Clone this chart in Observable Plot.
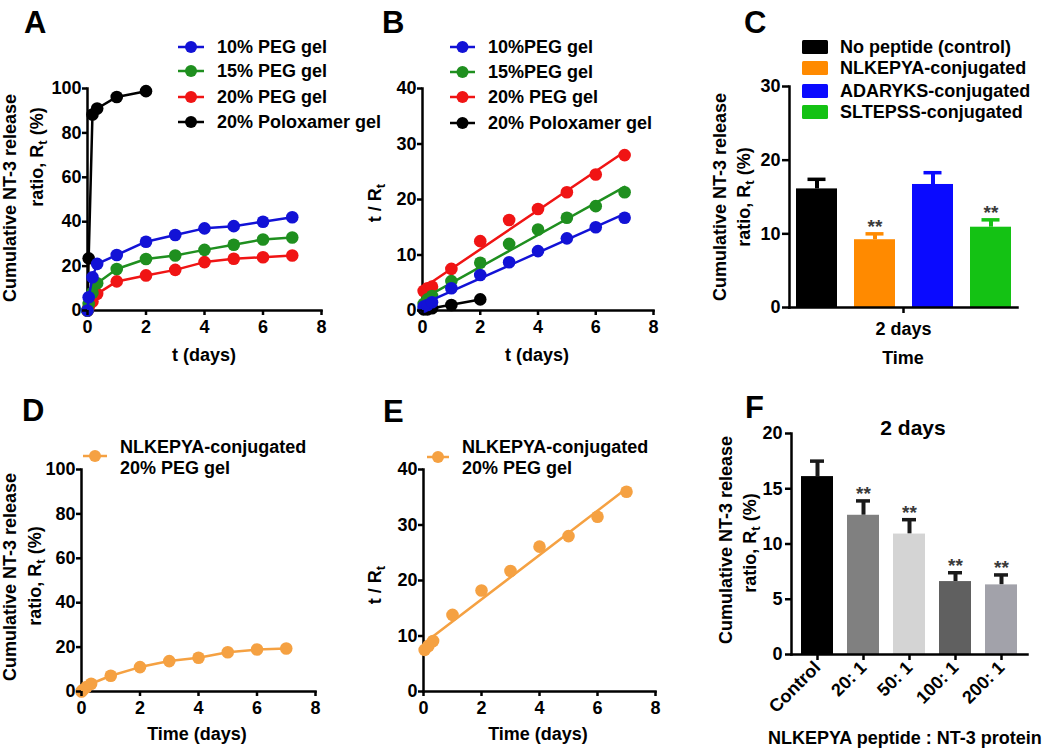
<!DOCTYPE html>
<html><head><meta charset="utf-8">
<script src="https://cdn.jsdelivr.net/npm/d3@7"></script>
<script src="https://cdn.jsdelivr.net/npm/@observablehq/plot@0.6"></script>
<style>
body{margin:0;background:#fff;}
#root{position:relative;width:1050px;height:748px;overflow:hidden;background:#fff;}
.panel{position:absolute;}
#overlay{position:absolute;left:0;top:0;pointer-events:none;}
</style></head><body><div id="root"></div>
<script>
const FONT = '"Liberation Sans", Arial, sans-serif';

// ---------- Panel A : cumulative release ----------
const timeA = [0, 0.04, 0.17, 0.33, 1, 2, 3, 4, 5, 6, 7];
const timePoloxA = [0, 0.04, 0.17, 0.33, 1, 2];
const seriesA = ["10% PEG gel", "15% PEG gel", "20% PEG gel", "20% Poloxamer gel"];
const colorsA = ["#1212d6", "#1f8f1f", "#f01414", "#000000"];
const peg10A = [0, 6, 15, 21, 25, 31, 34, 37, 38, 40, 42];
const peg15A = [0, 3, 8, 12.3, 18.7, 23.2, 24.8, 27.3, 29.6, 32, 32.9];
const peg20A = [0, 1.5, 4, 7.5, 13.1, 15.8, 18.3, 21.8, 23.3, 24, 24.8];
const poloxA = [0, 23.5, 88.3, 91, 96.2, 98.8];
const yTicksA = [0, 20, 40, 60, 80, 100];
const xTicks = [0, 2, 4, 6, 8];

// ---------- Panel B : t / Rt ----------
const timeB = [0.04, 0.17, 0.33, 1, 2, 3, 4, 5, 6, 7];
const timePoloxB = [0.04, 0.17, 0.33, 1, 2];
const seriesB = ["10%PEG gel", "15%PEG gel", "20% PEG gel", "20% Poloxamer gel"];
const peg10B = [0.7, 1.0, 1.5, 4.0, 6.4, 8.7, 10.7, 13.0, 15.0, 16.7];
const peg15B = [1.2, 2.0, 2.6, 5.3, 8.6, 12.0, 14.6, 16.7, 18.8, 21.3];
const peg20B = [3.5, 4.0, 4.3, 7.5, 12.5, 16.3, 18.3, 21.3, 24.5, 28.0];
const poloxB = [0.2, 0.2, 0.4, 1.0, 2.0];
const yTicksB = [0, 10, 20, 30, 40];

// ---------- Panel C : 2-day release by peptide ----------
const timeLabelC = "2 days";
const groupsC = ["No peptide (control)", "NLKEPYA-conjugated", "ADARYKS-conjugated", "SLTEPSS-conjugated"];
const colorsC = ["#000000", "#ff8a00", "#0a0aff", "#14c214"];
const meansC = [16.1, 9.2, 16.7, 10.9];
const errC = [1.3, 0.8, 1.6, 1.0];
const starsC = ["", "**", "", "**"];
const yTicksC = [0, 10, 20, 30];

// ---------- Panel D / E : NLKEPYA-conjugated 20% PEG gel ----------
const seriesDE = "NLKEPYA-conjugated 20% PEG gel";
const colorDE = "#f5a142";
const timeD = [0, 0.04, 0.17, 0.33, 1, 2, 3, 4, 5, 6, 7];
const releaseD = [0, 0.6, 2, 3.5, 7.1, 11, 13.7, 15.2, 17.7, 18.9, 19.4];
const timeE = [0.04, 0.17, 0.33, 1, 2, 3, 4, 5, 6, 7];
const ratioE = [7.5, 8.2, 9.1, 13.8, 18.2, 21.7, 26.1, 28.0, 31.5, 36.0];

// ---------- Panel F : ratio ----------
const groupsF = ["Control", "20: 1", "50: 1", "100: 1", "200: 1"];
const colorsF = ["#000000", "#808080", "#d4d4d4", "#606060", "#a2a2aa"];
const meansF = [16.1, 12.6, 10.9, 6.6, 6.3];
const errF = [1.4, 1.3, 1.3, 0.8, 0.9];
const starsF = ["", "**", "**", "**", "**"];
const yTicksF = [0, 5, 10, 15, 20];

const root = document.getElementById("root");
function place(svg, left, top) {
  const d = document.createElement("div");
  d.className = "panel";
  d.style.left = left + "px"; d.style.top = top + "px";
  d.appendChild(svg); root.appendChild(d);
}
const axisFont = {fontSize: 18, fontWeight: "bold", fontFamily: FONT, label: null, strokeWidth: 2.5};
const baseStyle = {fontFamily: FONT, background: "transparent", overflow: "visible"};
const axes = () => [Plot.frame({anchor: "left", strokeWidth: 2.5}), Plot.frame({anchor: "bottom", strokeWidth: 2.5})];

function rows(names, xsList, ysList) {
  return names.map((s, i) => xsList[i].map((t, j) => ({series: s, t, v: ysList[i][j]})));
}

// Panel A
{
  const data = rows(seriesA, [timeA, timeA, timeA, timePoloxA], [peg10A, peg15A, peg20A, poloxA]);
  const order = [3, 2, 1, 0];
  place(Plot.plot({
    width: 345, height: 345, marginLeft: 87, marginRight: 24, marginTop: 88, marginBottom: 35,
    style: baseStyle,
    x: {domain: [0, 8]}, y: {domain: [0, 100]},
    marks: [
      ...axes(),
      ...order.flatMap(i => [
        Plot.line(data[i], {x: "t", y: "v", stroke: colorsA[i], strokeWidth: 2.5}),
        Plot.dot(data[i], {x: "t", y: "v", r: 6.3, fill: colorsA[i]})
      ]),
      Plot.axisX({ticks: xTicks, tickSize: 5, tickPadding: 5, ...axisFont}),
      Plot.axisY({ticks: yTicksA, tickSize: 5, tickPadding: 1, ...axisFont})
    ]
  }), 0, 0);
}

// Panel B
{
  const data = rows(seriesB, [timeB, timeB, timeB, timePoloxB], [peg10B, peg15B, peg20B, poloxB]);
  const order = [3, 2, 1, 0];
  place(Plot.plot({
    width: 335, height: 345, marginLeft: 77, marginRight: 27, marginTop: 88, marginBottom: 35,
    style: baseStyle,
    x: {domain: [0, 8]}, y: {domain: [0, 40]},
    marks: [
      ...axes(),
      ...order.flatMap(i => [
        Plot.linearRegressionY(data[i], {x: "t", y: "v", stroke: colorsA[i], strokeWidth: 2.5, ci: 0}),
        Plot.dot(data[i], {x: "t", y: "v", r: 6.3, fill: colorsA[i]})
      ]),
      Plot.axisX({ticks: xTicks, tickSize: 5, tickPadding: 5, ...axisFont}),
      Plot.axisY({ticks: yTicksB, tickSize: 5, tickPadding: 1, ...axisFont})
    ]
  }), 345, 0);
}

// Panel C
{
  const data = groupsC.map((g, i) => ({time: timeLabelC, group: g, mean: meansC[i], top: meansC[i] + errC[i], star: starsC[i]}));
  place(Plot.plot({
    width: 370, height: 345, marginLeft: 109, marginRight: 33, marginTop: 86, marginBottom: 38,
    style: baseStyle,
    fx: {padding: 0, domain: [timeLabelC]},
    x: {domain: groupsC, paddingInner: 0.3, paddingOuter: 0.1, axis: null},
    y: {domain: [0, 30]},
    color: {domain: groupsC, range: colorsC},
    marks: [
      Plot.ruleX(data, {fx: "time", x: "group", y1: "mean", y2: "top", stroke: "group", strokeWidth: 4}),
      Plot.tickY(data, {fx: "time", x: "group", y: "top", stroke: "group", strokeWidth: 3.5, insetLeft: 11.5, insetRight: 11.5}),
      Plot.barY(data, {fx: "time", x: "group", y: "mean", fill: "group"}),
      Plot.text(data, {fx: "time", x: "group", y: "top", text: "star", lineAnchor: "bottom", dy: -1, fontSize: 19, fontWeight: "bold", fontFamily: FONT, fill: "#3a3a3a"}),
      ...axes(),
      Plot.axisY({ticks: yTicksC, tickSize: 7, tickPadding: 2, ...axisFont}),
      Plot.axisFx({anchor: "bottom", tickSize: 6, tickPadding: 9, ...axisFont})
    ]
  }), 680, 0);
}

// Panel D
{
  const data = timeD.map((t, j) => ({series: seriesDE, t, v: releaseD[j]}));
  place(Plot.plot({
    width: 345, height: 345, marginLeft: 81, marginRight: 30, marginTop: 89, marginBottom: 34,
    style: baseStyle,
    x: {domain: [0, 8]}, y: {domain: [0, 100]},
    marks: [
      ...axes(),
      Plot.line(data, {x: "t", y: "v", stroke: colorDE, strokeWidth: 2.5}),
      Plot.dot(data, {x: "t", y: "v", r: 6.3, fill: colorDE}),
      Plot.axisX({ticks: xTicks, tickSize: 5, tickPadding: 5, ...axisFont}),
      Plot.axisY({ticks: yTicksA, tickSize: 5, tickPadding: 1, ...axisFont})
    ]
  }), 0, 380);
}

// Panel E
{
  const data = timeE.map((t, j) => ({series: seriesDE, t, v: ratioE[j]}));
  place(Plot.plot({
    width: 335, height: 345, marginLeft: 78, marginRight: 25, marginTop: 89, marginBottom: 34,
    style: baseStyle,
    x: {domain: [0, 8]}, y: {domain: [0, 40]},
    marks: [
      ...axes(),
      Plot.linearRegressionY(data, {x: "t", y: "v", stroke: colorDE, strokeWidth: 2.5, ci: 0}),
      Plot.dot(data, {x: "t", y: "v", r: 6.3, fill: colorDE}),
      Plot.axisX({ticks: xTicks, tickSize: 5, tickPadding: 5, ...axisFont}),
      Plot.axisY({ticks: yTicksB, tickSize: 5, tickPadding: 1, ...axisFont})
    ]
  }), 345, 380);
}

// Panel F
{
  const data = groupsF.map((g, i) => ({group: g, mean: meansF[i], top: meansF[i] + errF[i], star: starsF[i]}));
  place(Plot.plot({
    width: 370, height: 368, marginLeft: 111, marginRight: 23, marginTop: 53, marginBottom: 94,
    style: baseStyle,
    x: {domain: groupsF, paddingInner: 0.3, paddingOuter: 0.2},
    y: {domain: [0, 20]},
    color: {domain: groupsF, range: colorsF},
    marks: [
      Plot.ruleX(data, {x: "group", y1: "mean", y2: "top", stroke: "#1a1a1a", strokeWidth: 4}),
      Plot.tickY(data, {x: "group", y: "top", stroke: "#1a1a1a", strokeWidth: 3.5, insetLeft: 9, insetRight: 9}),
      Plot.barY(data, {x: "group", y: "mean", fill: "group"}),
      Plot.text(data, {x: "group", y: "top", text: "star", lineAnchor: "bottom", dy: -1, fontSize: 19, fontWeight: "bold", fontFamily: FONT, fill: "#3a3a3a"}),
      ...axes(),
      Plot.axisY({ticks: yTicksF, tickSize: 6, tickPadding: 3, ...axisFont}),
      Plot.axisX({tickRotate: -45, tickSize: 6, tickPadding: 4, ...axisFont})
    ]
  }), 680, 380);
}

// ---------- Overlay: panel letters, axis titles, legends ----------
const ov = d3.select(root).append("svg").attr("id", "overlay")
  .attr("width", 1050).attr("height", 748)
  .attr("font-family", FONT).attr("font-weight", "bold").attr("font-size", 18);

function label(x, y, parts, {rotate = 0, anchor = "start", size = 18, baseline = "central"} = {}) {
  const t = ov.append("text")
    .attr("transform", `translate(${x},${y})` + (rotate ? ` rotate(${rotate})` : ""))
    .attr("text-anchor", anchor).attr("dominant-baseline", baseline).attr("font-size", size).attr("fill", "#000");
  for (const p of [].concat(parts)) {
    if (typeof p === "string") t.append("tspan").text(p);
    else t.append("tspan").attr("dy", p.dy).attr("font-size", p.size).text(p.text);
  }
  return t;
}
const ratioRt = ["ratio, R", {text: "t", dy: 5, size: 13}, {text: " (%)", dy: -5, size: 18}];
const tRt = ["t / R", {text: "t", dy: 5, size: 13}];
const line1 = "Cumulative NT-3 release";

// letters
[["A", 24, 33], ["B", 382, 33], ["C", 744, 33], ["D", 22, 421], ["E", 383, 422], ["F", 745, 418]]
  .forEach(([s, x, y]) => label(x, y, s, {size: 31, baseline: "alphabetic"}));

// y titles
label(10, 198, line1, {rotate: -90, anchor: "middle"});
label(37, 157, ratioRt, {rotate: -90, anchor: "middle"});
label(375, 203, tRt, {rotate: -90, anchor: "middle"});
label(720, 197, line1, {rotate: -90, anchor: "middle"});
label(744, 197, ratioRt, {rotate: -90, anchor: "middle"});
label(10, 577, line1, {rotate: -90, anchor: "middle"});
label(35, 576, ratioRt, {rotate: -90, anchor: "middle"});
label(375, 585, tRt, {rotate: -90, anchor: "middle"});
label(726, 540, line1, {rotate: -90, anchor: "middle"});
label(750, 543, ratioRt, {rotate: -90, anchor: "middle"});

// x titles
label(204, 355, "t (days)", {anchor: "middle"});
label(537, 355, "t (days)", {anchor: "middle"});
label(903, 358, "Time", {anchor: "middle"});
label(197, 734, "Time (days)", {anchor: "middle"});
label(538, 734, "Time (days)", {anchor: "middle"});
label(768, 738, "NLKEPYA peptide : NT-3 protein");
label(913, 427, "2 days", {anchor: "middle", size: 21});

// line legends
function lineLegend(names, colors, x0, x1, tx, ys) {
  names.forEach((n, i) => {
    ov.append("line").attr("x1", x0).attr("x2", x1).attr("y1", ys[i]).attr("y2", ys[i])
      .attr("stroke", colors[i]).attr("stroke-width", 2.5);
    ov.append("circle").attr("cx", (x0 + x1) / 2).attr("cy", ys[i]).attr("r", 6).attr("fill", colors[i]);
    label(tx, ys[i], n);
  });
}
lineLegend(seriesA, colorsA, 178, 204, 217, [47, 71, 97, 122]);
lineLegend(seriesB, colorsA, 450, 475, 488, [47, 72, 97, 123]);

// bar legend C
groupsC.forEach((g, i) => {
  const y = [47, 68, 91, 112][i];
  ov.append("rect").attr("x", 802).attr("y", y - 7).attr("width", 26).attr("height", 14).attr("rx", 1.5).attr("fill", colorsC[i]);
  label(840, y, g);
});

// D / E legends
[[83, 107, 120, 456], [427, 449, 462, 457]].forEach(([x0, x1, tx, y]) => {
  ov.append("line").attr("x1", x0).attr("x2", x1).attr("y1", y).attr("y2", y).attr("stroke", colorDE).attr("stroke-width", 2.5);
  ov.append("circle").attr("cx", (x0 + x1) / 2).attr("cy", y).attr("r", 6).attr("fill", colorDE);
  label(tx, 447, "NLKEPYA-conjugated");
  label(tx, 468, "20% PEG gel");
});
</script></body></html>
